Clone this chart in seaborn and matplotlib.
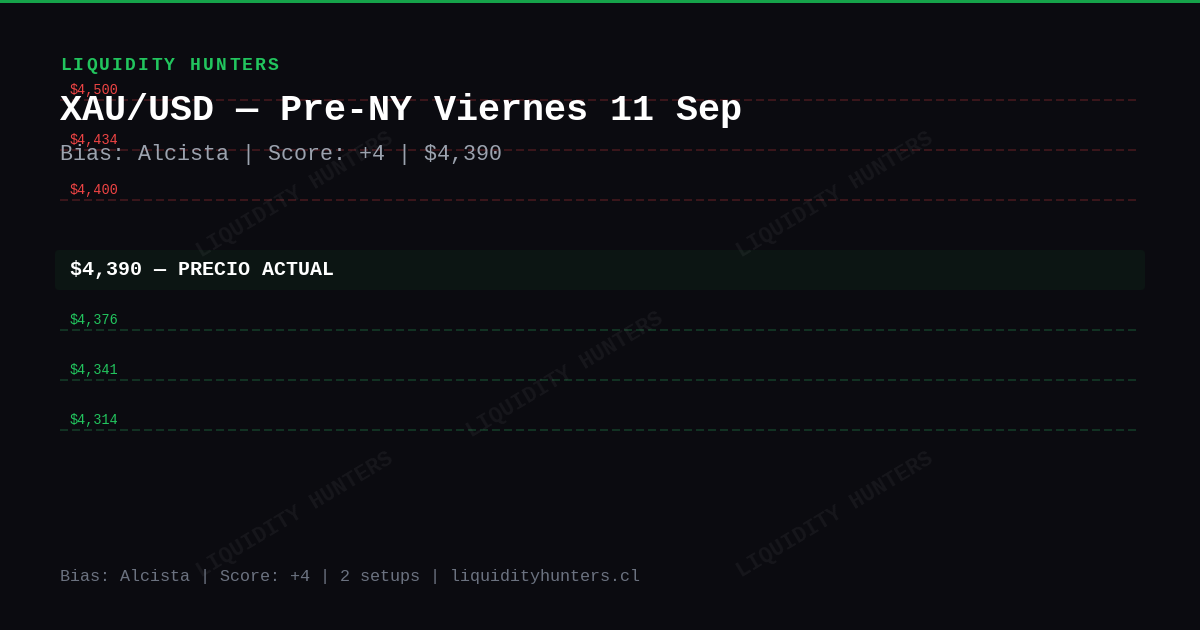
import numpy as np
import pandas as pd
import matplotlib
matplotlib.use("Agg")
import matplotlib.pyplot as plt
from matplotlib.patches import FancyBboxPatch, Rectangle
import seaborn as sns

# chart values
brand = "LIQUIDITY HUNTERS"
symbol = "XAU/USD"
session = "Pre-NY Viernes 11 Sep"
bias = "Alcista"
score = 4
price = 4390
setups = 2
site = "liquidityhunters.cl"
resistances = [4500, 4434, 4400]
supports = [4376, 4341, 4314]

BG = "#0b0b10"
GREEN = "#22c55e"
RED = "#ef4444"

sns.set_theme(style="dark")
plt.rcParams['font.family'] = ['Liberation Mono', 'DejaVu Sans Mono']

fig = plt.figure(figsize=(12, 6.3), dpi=100, facecolor=BG)
ax = fig.add_axes([0, 0, 1, 1])
ax.set_facecolor(BG)

PX = 0.72  # px -> pt at 100 dpi

# level lines
rows = []
for i, lvl in enumerate(resistances):
    rows.append({"level": lvl, "kind": "res", "x": 60, "y": 100 + 50 * i})
    rows.append({"level": lvl, "kind": "res", "x": 1136, "y": 100 + 50 * i})
for i, lvl in enumerate(supports):
    rows.append({"level": lvl, "kind": "sup", "x": 60, "y": 330 + 50 * i})
    rows.append({"level": lvl, "kind": "sup", "x": 1136, "y": 330 + 50 * i})
levels = pd.DataFrame(rows)

lw = 1.5 * PX
sns.lineplot(data=levels, x="x", y="y", units="level", estimator=None,
             hue="kind", palette={"res": "#4a1a1f", "sup": "#15402a"},
             linewidth=lw, legend=False, ax=ax, sort=False)
for ln in ax.lines:
    ln.set_linestyle((0, (8 * PX / lw, 4 * PX / lw)))
    ln.set_dash_capstyle("butt")

ax.set_xlim(0, 1200)
ax.set_ylim(630, 0)
ax.axis("off")

# top accent bar
ax.add_patch(Rectangle((0, 0), 1200, 3, color="#16a34a", lw=0))

# watermarks
for cx, cy in [(295, 195), (835, 195), (565, 375), (295, 515), (835, 515)]:
    ax.text(cx, cy, brand, color="#ffffff", alpha=0.05, fontsize=22 * PX,
            fontweight="bold", rotation=31, ha="center", va="center")

for _, r in levels.drop_duplicates("level").iterrows():
    ax.text(70, r["y"] - 10, "${:,}".format(r["level"]),
            color=RED if r["kind"] == "res" else GREEN,
            fontsize=13.5 * PX, ha="left", va="center")

# brand with letter spacing
for k, ch in enumerate(brand):
    ax.text(60 + k * 13.0, 70, ch, color=GREEN, fontsize=18 * PX,
            fontweight="bold", ha="left", va="baseline")

# title + subtitle
ax.text(60, 120, "{} — {}".format(symbol, session), color="white",
        fontsize=36.7 * PX, fontweight="bold", ha="left", va="baseline")
ax.text(60, 160, "Bias: {} | Score: +{} | ${:,}".format(bias, score, price),
        color="#9ca3af", fontsize=21.7 * PX, ha="left", va="baseline")

# current price bar
ax.add_patch(FancyBboxPatch((55, 250), 1090, 40,
                            boxstyle="round,pad=0,rounding_size=4",
                            fc="#0c1513", ec="none"))
ax.text(70, 275, "${:,} — PRECIO ACTUAL".format(price), color="white",
        fontsize=20 * PX, fontweight="bold", ha="left", va="baseline")

# footer
ax.text(60, 581, "Bias: {} | Score: +{} | {} setups | {}".format(bias, score, setups, site),
        color="#6b7280", fontsize=16.7 * PX, ha="left", va="baseline")

fig.savefig("out.png", dpi=100, facecolor=BG)
